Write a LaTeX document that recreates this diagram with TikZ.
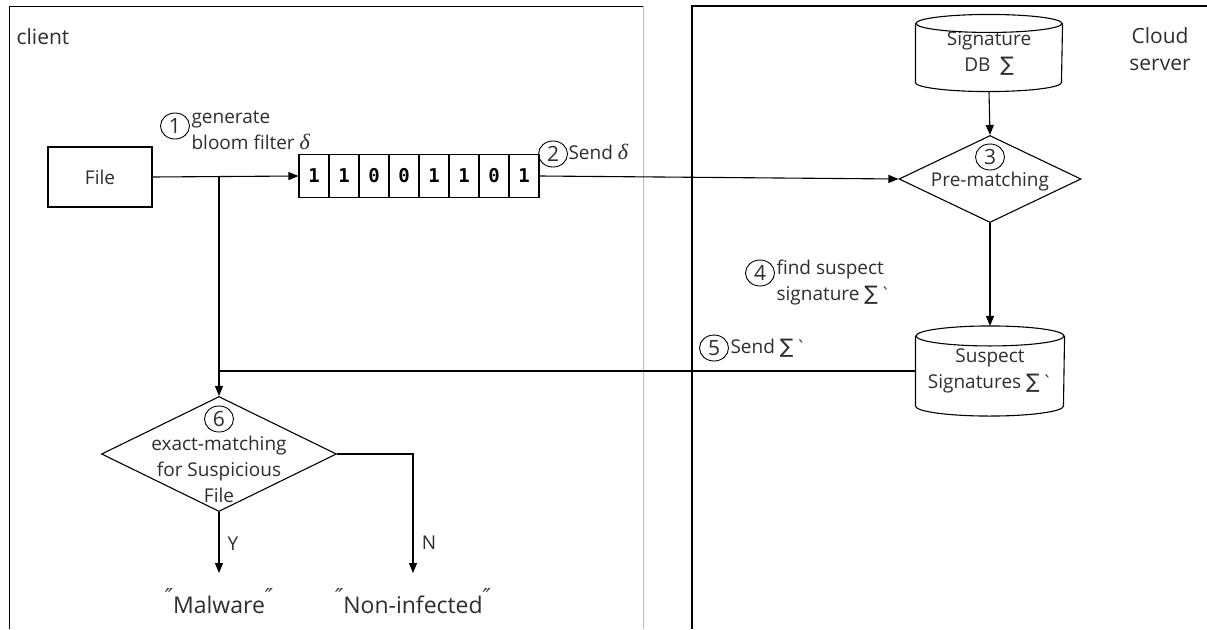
\documentclass[tikz,border=0pt]{standalone}
\usepackage{fontspec}
\setmainfont{Open Sans}
\newfontfamily\dvsans[Ligatures=NoCommon]{DejaVu Sans}
\newfontfamily\dvmono{DejaVu Sans Mono}
\newfontfamily\lserif{Liberation Serif}
\usetikzlibrary{arrows.meta,shapes.geometric,calc}
\newcommand{\Sg}{{\dvsans\fontsize{20}{20}\selectfont ∑}}
\newcommand{\Gr}{\hspace{4pt}{\dvsans\fontsize{17}{17}\selectfont\char"0060}}
\newcommand{\Dl}{{\lserif\itshape\fontsize{22}{22}\selectfont δ}}
\newcommand{\dq}{\raisebox{0.7ex}{\dvsans\itshape\fontsize{22}{22}\selectfont ″}}
\newcommand{\drawcyl}[3]{%
  \draw ([yshift=-#3]#1.north west) -- ([yshift=#3]#1.south west)
        arc[start angle=180,end angle=360,x radius=#2,y radius=#3]
        -- ([yshift=-#3]#1.north east);
  \draw ([yshift=-#3]#1.north) ellipse [x radius=#2, y radius=#3];}
\begin{document}
\begin{tikzpicture}[x=1pt,y=-1pt,line width=1.1pt,
  every node/.style={font=\fontsize{19}{26}\selectfont, inner sep=0pt, text=black!82},
  arr/.style={-{Triangle[length=10pt,width=8pt]}},
  num/.style={ellipse, draw, line width=0.9pt, minimum width=29pt, minimum height=26pt,
              font=\fontsize{21}{21}\selectfont},
  filebox/.style={draw, minimum width=104pt, minimum height=60pt},
  bit/.style={draw, minimum width=30pt, minimum height=43pt,
              font=\dvmono\bfseries\fontsize{19}{19}\selectfont, text=black},
  cylnode/.style={minimum width=#1, align=center},
  dia/.style={diamond, draw}
]
\useasboundingbox (0,0) rectangle (1207,629);
\fill[white] (0,0) rectangle (1207,629);

% panels
\draw[line width=1pt] (9,629) -- (9,6) -- (643,6);
\draw[gray!55, line width=0.6pt] (643,6) -- (643,629);
\draw[line width=1.3pt] (692,629) -- (692,6) -- (1207,6);

\node[font=\fontsize{21}{21}\selectfont] (client) at (43,37) {client};
\node[font=\fontsize{21}{27}\selectfont, align=center] (cloud) at (1160,49) {Cloud\\server};

% client side
\node[filebox] (file) at (100,177) {File};
\foreach \b [count=\i] in {1,1,0,0,1,1,0,1}
  \node[bit] (b\i) at ({284+30*\i},176) {\b};

\node[num] (c1) at (175,126) {1};
\node[anchor=west, align=left] (t1) at (191,130) {generate\\bloom filter \Dl};
\node[num] (c2) at (553,154) {2};
\node[anchor=west] (t2) at (568,152) {Send \Dl};

% server side
\node[cylnode=146pt, minimum height=76pt] (db) at (989,53) {Signature\\DB\ \ \Sg};
\drawcyl{db}{73pt}{9pt}
\node[dia, minimum width=182pt, minimum height=87pt] (pre) at (990,179) {};
\node[num] (c3) at (990,157) {3};
\node (pretext) at (990,182) {Pre-matching};
\node[cylnode=148pt, minimum height=89pt] (sus) at (990,371) {Suspect\\Signatures \Sg\Gr};
\drawcyl{sus}{74pt}{10pt}

\node[num] (c4) at (760,273) {4};
\node[anchor=west, align=left] (t4) at (776,283) {find suspect\\signature \Sg\Gr};
\node[num] (c5) at (714,348) {5};
\node[anchor=west] (t5) at (730,348) {Send \Sg\Gr};

% decision
\node[dia, minimum width=235pt, minimum height=115pt] (exact) at (219,454) {};
\node[num] (c6) at (219,419) {6};
\node[align=center] (extext) at (219,469) {exact-matching\\for Suspicious\\File};

\node[font=\fontsize{23}{23}\selectfont] (mal) at (219,601) {\dq Malware\dq};
\node[font=\fontsize{23}{23}\selectfont] (non) at (413,601) {\dq Non-infected\dq};
\node (ylab) at (233,544) {Y};
\node (nlab) at (429,543) {N};

% connectors
\coordinate (j1) at (219,177);
\coordinate (j2) at (219,371);
\draw[arr] (file.east) -- (b1.west);
\draw[arr] (b8.east) -- (pre.west);
\draw[arr] (db.south) -- (pre.north);
\draw[arr] (pre.south) -- (sus.north);
\draw (sus.west) -- (j2);
\draw[arr] (j1) -- (exact.north);
\draw[arr] (exact.south) -- ([yshift=15pt]mal.north);
\draw[arr] (exact.east) -| ([yshift=15pt]non.north);
\end{tikzpicture}
\end{document}
